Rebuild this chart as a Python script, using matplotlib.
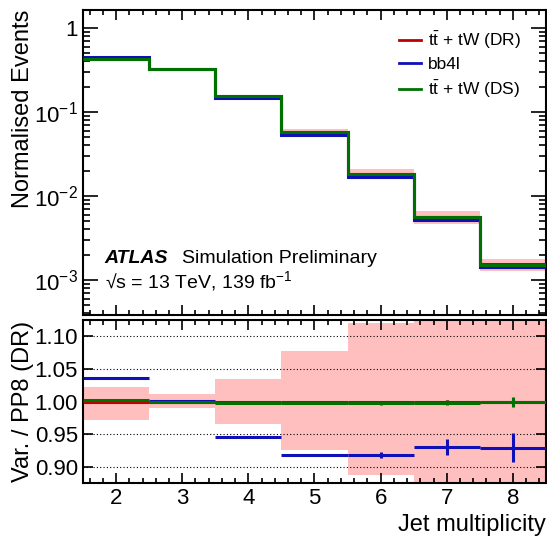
import numpy as np
import matplotlib
matplotlib.use("Agg")
import matplotlib.pyplot as plt
from matplotlib.ticker import FixedLocator, MultipleLocator, LogLocator, FuncFormatter, NullFormatter

plt.rcParams['font.family'] = ['Liberation Sans', 'DejaVu Sans']
plt.rcParams['mathtext.fontset'] = 'custom'
plt.rcParams['mathtext.rm'] = 'Liberation Sans'
plt.rcParams['mathtext.it'] = 'Liberation Sans'
plt.rcParams['mathtext.bf'] = 'Liberation Sans:bold'

# --- data ---
jet_bins = [2, 3, 4, 5, 6, 7, 8]
dr_norm = [0.432, 0.326, 0.155, 0.0582, 0.0185, 0.0056, 0.00153]   # tt + tW (DR), normalised

ratio_bb4l = [1.036, 1.001, 0.945, 0.918, 0.918, 0.930, 0.929]
ratio_ds = [1.003, 0.999, 0.997, 0.998, 0.997, 0.998, 0.999]
ratio_dr = [1.0, 1.0, 1.0, 1.0, 1.0, 1.0, 1.0]

err_bb4l = [0.001, 0.001, 0.001, 0.002, 0.004, 0.012, 0.022]
err_ds = [0.001, 0.001, 0.001, 0.001, 0.002, 0.004, 0.008]
err_dr = [0.0005, 0.0005, 0.0005, 0.001, 0.001, 0.002, 0.004]

unc_up = [0.023, 0.012, 0.035, 0.077, 0.12, 0.18, 0.17]
unc_dn = [0.029, 0.010, 0.034, 0.074, 0.112, 0.18, 0.17]

C_DR = '#c00000'
C_BB = '#1010b8'
C_DS = '#007000'
C_BAND = '#ffbfbf'

x = np.array(jet_bins, dtype=float)
edges = np.append(x - 0.5, x[-1] + 0.5)
dr = np.array(dr_norm)
bb = dr * np.array(ratio_bb4l)
ds = dr * np.array(ratio_ds)
up = np.array(unc_up)
dn = np.array(unc_dn)

fig = plt.figure(figsize=(5.47, 5.39), dpi=100)
ax = fig.add_axes([0.1517, 0.4156, 0.8465, 0.5658])
rax = fig.add_axes([0.1517, 0.1039, 0.8465, 0.3024])

# --- top panel ---
ax.stairs(dr * (1 + up), edges, baseline=dr * (1 - dn), fill=True,
          color=C_BAND, lw=0, zorder=1)
ax.stairs(dr, edges, color=C_DR, lw=2.2, zorder=3, baseline=None)
ax.stairs(bb, edges, color=C_BB, lw=2.2, zorder=4, baseline=None)
ax.stairs(ds, edges, color=C_DS, lw=2.2, zorder=5, baseline=None)
ax.errorbar(x, bb, yerr=bb * np.array(err_bb4l), fmt='none', ecolor=C_BB, lw=1, zorder=4)
ax.errorbar(x, ds, yerr=ds * np.array(err_ds), fmt='none', ecolor=C_DS, lw=1, zorder=5)

ax.set_yscale('log')
ax.set_xlim(1.5, 8.5)
ax.set_ylim(3.83e-4, 1.64)
ax.yaxis.set_major_locator(LogLocator(base=10, numticks=10))
ax.yaxis.set_minor_locator(LogLocator(base=10, subs=np.arange(2, 10), numticks=10))


def logfmt(v, pos):
    e = int(round(np.log10(v)))
    if e == 0:
        return '1'
    return r'$10^{%d}$' % e


ax.yaxis.set_major_formatter(FuncFormatter(logfmt))
ax.yaxis.set_minor_formatter(NullFormatter())
ax.xaxis.set_major_locator(MultipleLocator(1))
ax.xaxis.set_minor_locator(MultipleLocator(0.2))
ax.tick_params(axis='x', labelbottom=False)
ax.set_ylabel('Normalised Events', fontsize=17, loc='top')

ax.plot([], [], color=C_DR, lw=2, label=r'$\mathrm{t\bar{t}}$ + tW (DR)')
ax.plot([], [], color=C_BB, lw=2, label='bb4l')
ax.plot([], [], color=C_DS, lw=2, label=r'$\mathrm{t\bar{t}}$ + tW (DS)')
ax.legend(loc='upper right', bbox_to_anchor=(0.969, 0.969), frameon=False, fontsize=12.5,
          handlelength=1.3, handletextpad=0.4, labelspacing=0.35, borderaxespad=0.2)

ax.text(0.047, 0.17, 'ATLAS', transform=ax.transAxes, fontsize=14,
        fontweight='bold', fontstyle='italic')
ax.text(0.213, 0.17, 'Simulation Preliminary', transform=ax.transAxes, fontsize=14)
ax.text(0.047, 0.09, '\u221As = 13 TeV, 139 fb$^{\\mathrm{-1}}$',
        transform=ax.transAxes, fontsize=14)

# --- ratio panel ---
rax.stairs(1 + up, edges, baseline=1 - dn, fill=True, color=C_BAND, lw=0, zorder=1)
for yv in [0.90, 0.95, 1.00, 1.05, 1.10]:
    rax.axhline(yv, color='black', lw=0.8, ls=(0, (1, 2)), zorder=2)
rax.errorbar(x, ratio_dr, xerr=0.5, yerr=err_dr, fmt='none', ecolor=C_DR, lw=2.2, zorder=3)
rax.errorbar(x, ratio_bb4l, xerr=0.5, yerr=err_bb4l, fmt='none', ecolor=C_BB, lw=2.2, zorder=4)
rax.errorbar(x, ratio_ds, xerr=0.5, yerr=err_ds, fmt='none', ecolor=C_DS, lw=2.2, zorder=5)

rax.set_xlim(1.5, 8.5)
rax.set_ylim(0.875, 1.125)
rax.yaxis.set_major_locator(FixedLocator([0.90, 0.95, 1.00, 1.05, 1.10]))
rax.yaxis.set_major_formatter(FuncFormatter(lambda v, p: '%.2f' % v))
rax.xaxis.set_major_locator(MultipleLocator(1))
rax.xaxis.set_minor_locator(MultipleLocator(0.2))
rax.set_ylabel('Var. / PP8 (DR)', fontsize=17)
rax.set_xlabel('Jet multiplicity', fontsize=17, loc='right')

for a in (ax, rax):
    for s in a.spines.values():
        s.set_linewidth(1.5)
    a.tick_params(which='both', direction='in', top=True, right=True, labelsize=16, width=1.2)
    a.tick_params(axis='x', which='major', length=7)
    a.tick_params(axis='x', which='minor', length=3.5)

ax.tick_params(axis='y', which='major', length=10.8)
ax.tick_params(axis='y', which='minor', length=5)
rax.tick_params(axis='y', which='major', length=7.2)
rax.tick_params(axis='y', which='minor', length=0)

ax.yaxis.set_label_coords(-0.105, 1.0)
rax.yaxis.set_label_coords(-0.105, 0.5)

fig.savefig('out.png', dpi=100)
